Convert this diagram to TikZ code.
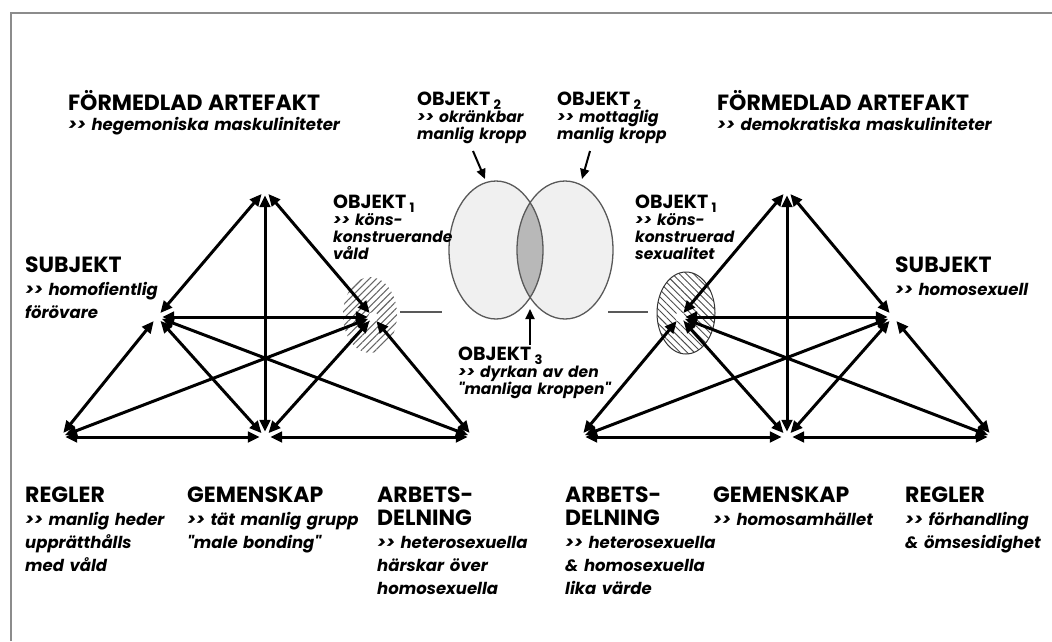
\documentclass[tikz,border=0pt]{standalone}
\usepackage{fontspec}
\newfontfamily\diagfont{Poppins}
\usepackage{tikz}
\usetikzlibrary{arrows.meta,patterns.meta,positioning}
\definecolor{framegray}{gray}{0.55}
\definecolor{vennfill}{gray}{0.94}
\definecolor{venncore}{gray}{0.72}
\definecolor{vennline}{gray}{0.35}
\definecolor{hatchgray}{gray}{0.4}
\tikzset{vertex/.style={shape=circle,fill=white,inner sep=0pt,minimum size=10pt},
	link/.style={<->,line width=3pt},
	pointer/.style={->,line width=2pt,>={Triangle[length=10pt,width=9pt]}},
	bigtext/.style={anchor=base west,inner sep=0pt,text width=300pt,align=left,font=\diagfont\bfseries\itshape\fontsize{16.5}{23}\selectfont},
	smalltext/.style={anchor=base west,inner sep=0pt,text width=200pt,align=left,font=\diagfont\bfseries\itshape\fontsize{15.5}{17.3}\selectfont}}
\newcommand\hdtxt[1]{{\upshape\fontsize{22}{23}\selectfont #1}}
\newcommand\objtxt[1]{{\upshape\fontsize{19}{17}\selectfont OBJEKT\,\raisebox{-0.4ex}{\fontsize{13}{13}\selectfont #1}}}

\begin{document}
\begin{tikzpicture}[x=1pt,y=-1pt,>={Triangle[length=12pt,width=10.5pt]}]
		\useasboundingbox (0,0) rectangle (1052,641);
		\draw[framegray,line width=2pt] (11,641) |- (1052,13);
		%
		\fill[vennfill] (496,250) ellipse [x radius=47,y radius=69] (565,250) ellipse [x radius=48,y radius=69];
		\begin{scope}
			\clip (496,250) ellipse [x radius=47,y radius=69];
			\fill[venncore] (565,250) ellipse [x radius=48,y radius=69];
		\end{scope}
		\draw[vennline,line width=1.3pt] (496,250) ellipse [x radius=47,y radius=69] (565,250) ellipse [x radius=48,y radius=69];
		%
		\fill[pattern={Lines[angle=45,distance=5pt,line width=1.1pt]},pattern color=hatchgray] (370,315) ellipse [x radius=27,y radius=38];
		\filldraw[draw=black!80,line width=1pt,pattern={Lines[angle=-45,distance=5pt,line width=0.9pt]},pattern color=black!70] (686,313) ellipse [x radius=29,y radius=41];
		\draw[vennline,line width=1.5pt] (400,312) -- (442,312);
		\draw[vennline,line width=1.5pt] (608,312) -- (648,312);
		%
		\node[vertex] (ltop) at (265,190) {};
		\node[vertex] (lsub) at (157,317) {};
		\node[vertex] (lobj) at (373,317) {};
		\node[vertex] (lbl) at (60,437) {};
		\node[vertex] (lbm) at (265,437) {};
		\node[vertex] (lbr) at (473,437) {};
		\node[vertex] (rtop) at (787,190) {};
		\node[vertex] (robj) at (680,317) {};
		\node[vertex] (rsub) at (893,317) {};
		\node[vertex] (rbl) at (580,437) {};
		\node[vertex] (rbm) at (787,437) {};
		\node[vertex] (rbr) at (993,437) {};
		%
		\draw[link] (ltop) edge (lsub) edge (lobj) edge (lbm);
		\draw[link] (lsub) edge (lobj) edge (lbl) edge (lbm) edge (lbr);
		\draw[link] (lobj) edge (lbr) edge (lbm) edge (lbl);
		\draw[link] (lbm) edge (lbl) edge (lbr);
		\draw[link] (rtop) edge (robj) edge (rsub) edge (rbm);
		\draw[link] (robj) edge (rsub) edge (rbl) edge (rbm) edge (rbr);
		\draw[link] (rsub) edge (rbr) edge (rbm) edge (rbl);
		\draw[link] (rbm) edge (rbl) edge (rbr);
		%
		\node[bigtext] (artL) at (68,110) {\hdtxt{FÖRMEDLAD ARTEFAKT}\\[-3pt] >> hegemoniska maskuliniteter};
		\node[bigtext] (artR) at (717,110) {\hdtxt{FÖRMEDLAD ARTEFAKT}\\[-3pt] >> demokratiska maskuliniteter};
		\node[smalltext] (o2L) at (417,105) {\objtxt{2}\\ >> okränkbar\\ manlig kropp};
		\node[smalltext] (o2R) at (557,105) {\objtxt{2}\\ >> mottaglig\\ manlig kropp};
		\node[smalltext] (o1L) at (333,208) {\objtxt{1}\\ >> köns-\\ konstruerande\\ våld};
		\node[smalltext] (o1R) at (635,208) {\objtxt{1}\\ >> köns-\\ konstruerad\\ sexualitet};
		\node[smalltext] (o3) at (458,360) {\objtxt{3}\\ >> dyrkan av den\\ \textquotedbl manliga kroppen\textquotedbl};
		\node[bigtext] (subjL) at (25,272) {\hdtxt{SUBJEKT}\\ >> homofientlig\\ förövare};
		\node[bigtext] (subjR) at (895,272) {\hdtxt{SUBJEKT}\\ >> homosexuell};
		\node[bigtext] (reglerL) at (25,502) {\hdtxt{REGLER}\\ >> manlig heder\\ upprätthålls\\ med våld};
		\node[bigtext] (gemL) at (187,502) {\hdtxt{GEMENSKAP}\\ >> tät manlig grupp\\ \textquotedbl male bonding\textquotedbl};
		\node[bigtext] (arbL) at (377,502) {\hdtxt{ARBETS-}\\ \hdtxt{DELNING}\\ >> heterosexuella\\ härskar över\\ homosexuella};
		\node[bigtext] (arbR) at (565,502) {\hdtxt{ARBETS-}\\ \hdtxt{DELNING}\\ >> heterosexuella\\ \& homosexuella\\ lika värde};
		\node[bigtext] (gemR) at (713,502) {\hdtxt{GEMENSKAP}\\ >> homosamhället};
		\node[bigtext] (reglerR) at (905,502) {\hdtxt{REGLER}\\ >> förhandling\\ \& ömsesidighet};
		%
		\coordinate (o2Lfrom) at (473,151);
		\coordinate (o2Lto) at (485,179);
		\coordinate (o2Rfrom) at (590,151);
		\coordinate (o2Rto) at (582,179);
		\coordinate (o3from) at (530,345);
		\coordinate (o3to) at (530,309);
		\draw[pointer] (o2Lfrom) -- (o2Lto);
		\draw[pointer] (o2Rfrom) -- (o2Rto);
		\draw[pointer] (o3from) -- (o3to);
	\end{tikzpicture}
\end{document}
